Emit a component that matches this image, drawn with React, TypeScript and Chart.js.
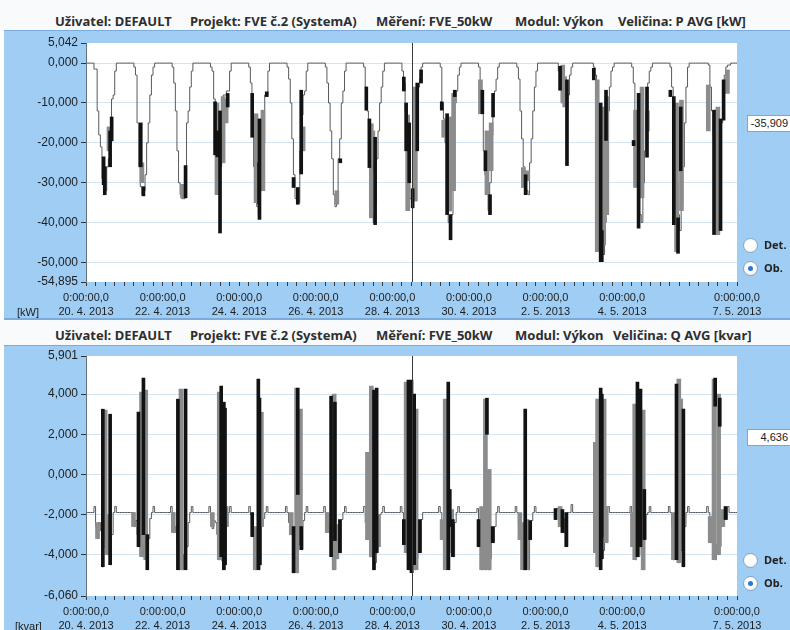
import React, { useEffect, useRef } from 'react';
import { Chart, registerables } from 'chart.js';

Chart.register(...registerables);

// ---------- DATA ----------
// x axis: days since 20. 4. 2013 0:00
const xTickDays = [0, 2, 4, 6, 8, 10, 12, 14, 17];
const xTickDates = ['20. 4. 2013', '22. 4. 2013', '24. 4. 2013', '26. 4. 2013', '28. 4. 2013', '30. 4. 2013', '2. 5. 2013', '4. 5. 2013', '7. 5. 2013'];
const xTickTime = '0:00:00,0';
const cursorDay = 8.5;

// P AVG [kW] – hourly outline, hours 5..19 of each day (night = 0)
const pNight = 0;
const pDaytime = [
  [-1.5, -1.5, -12, -18, -21, -29, -33, -32, -26, -24, -20, -9, -8, -2, 0],
  [0, -1, -3, -15, -26, -31, -33, -32, -28, -20, -15, -8, -3, -1, 0],
  [0, -1, -5, -12, -22, -30, -33, -34, -34, -30, -15, -12, -6, -2, 0],
  [0, -1, -2, -9, -16, -22, -28, -26, -20, -8, -8, -7, -7, -2, 0],
  [0, -1, -5, -14, -26, -33, -36, -38, -32, -28, -20, -8, -8, -2, 0],
  [0, -1, -4, -10, -19, -28, -34, -35, -35, -22, -13, -8, -7, -2, 0],
  [0, -1, -5, -10, -17, -24, -33, -36, -35, -24, -19, -10, -7, -2, 0],
  [0, -1, -6, -12, -22, -32, -38, -40, -35, -24, -17, -10, -6, -2, 0],
  [0, -2, -5, -12, -22, -30, -34, -36, -30, -20, -12, -6, -4, -1, 0],
  [0, -1, -10, -14, -20, -30, -40, -42, -38, -28, -10, -7, -3, -1, 0],
  [0, -1, -5, -12, -22, -28, -33, -37, -30, -18, -8, -7, -4, -1, 0],
  [0, -1, -4, -12, -19, -26, -29, -32, -33, -25, -19, -12, -6, -2, 0],
  [0, 0, 0, -2, -5, -8, -6, -9, -12, -8, -3, -1, 0, 0, 0],
  [0, -1, -3, -8, -20, -34, -44, -48, -40, -25, -12, -6, -2, -1, 0],
  [0, -1, -5, -14, -28, -32, -38, -40, -30, -22, -12, -5, -2, -1, 0],
  [0, -1, -6, -15, -22, -30, -38, -42, -35, -26, -15, -6, -1, 0, 0],
  [0, -0.5, -6, -12, -18, -30, -40, -38, -25, -15, -8, -3, -1, -0.5, -0.5],
];
// P fluctuation ranges [day, min, max]
const pBarsBlack = [
  [0.46, -30.5, -23.5], [0.49, -33, -26], [0.63, -26, -17], [0.67, -19.5, -13.5],
  [1.43, -26, -15], [1.5, -33.3, -31],
  [2.6, -33.8, -25.7],
  [3.37, -23, -9.7], [3.43, -23.5, -17], [3.5, -42.6, -12], [3.7, -11, -7.6],
  [4.34, -18.6, -7.6], [4.52, -35.4, -25], [4.53, -39.2, -14], [4.72, -8.4, -7.2],
  [5.42, -31.2, -28.7], [5.53, -35.4, -31.2], [5.62, -27.8, -6.8],
  [6.64, -25, -24],
  [7.32, -11.8, -6], [7.4, -26.2, -14], [7.55, -40.5, -18.6],
  [8.3, -7, -3.5], [8.36, -22, -10], [8.44, -30, -15], [8.53, -36.3, -31.5], [8.65, -22, -5], [8.75, -5, -1.7],
  [9.29, -11.8, -9.7], [9.43, -38, -12.7], [9.52, -44.3, -38], [9.63, -8.4, -6.8],
  [10.35, -12.7, -6.8], [10.43, -27, -22], [10.55, -38, -33], [10.63, -13.5, -7.6],
  [11.48, -33, -28],
  [12.38, -6.8, -0.8], [12.56, -25.7, -4.2],
  [13.26, -4.2, -1.3], [13.44, -49.8, -10], [13.47, -49.8, -42], [13.58, -19.4, -6.8],
  [14.3, -20.7, -19.4], [14.43, -41.4, -7.6], [14.65, -23.6, -6],
  [15.26, -8.4, -6.8], [15.35, -40.5, -8.4], [15.46, -47.7, -38.8], [15.53, -27, -11],
  [16.4, -43, -11.8], [16.57, -42, -14], [16.65, -14.3, -4.2],
];
const pBarsGray = [
  [0.6, -22, -16], [1.46, -30, -25], [2.52, -33.8, -30.4],
  [3.42, -33, -10], [3.58, -25, -8.4], [3.66, -15, -9],
  [4.44, -35, -12.7], [4.62, -32, -11.8],
  [5.67, -22, -16],
  [6.55, -35.4, -32],
  [7.45, -38.8, -15.2], [7.49, -27, -17],
  [8.4, -37, -13], [8.6, -34.6, -6],
  [9.34, -18.6, -14.3], [9.5, -37.1, -13.5], [9.6, -32, -7.6],
  [10.3, -12.7, -4.2], [10.47, -33, -17], [10.58, -27, -15],
  [11.42, -31.2, -26.2], [11.53, -29.5, -27],
  [12.45, -10, -0.5], [12.5, -11, -3.4],
  [13.35, -47.3, -4.2], [13.52, -45.6, -11], [13.6, -38, -8.4],
  [14.35, -31.2, -11.8], [14.52, -33.8, -6], [14.66, -17, -12],
  [15.42, -47.3, -10], [15.55, -37, -9.3],
  [16.25, -17, -5.5], [16.5, -43, -11], [16.75, -7.6, -1.7],
];
const pYTicks = [5.042, 0, -10, -20, -30, -40, -50, -54.895];
const pCursorValue = '-35,909';

// Q AVG [kvar] – hourly outline, hours 5..19 (night = -1.9)
const qNight = -1.9;
const qDaytime = [
  [-1.6, -2.6, -3.2, -2.4, -2.8, -4.6, -3.6, -3.3, -4.0, -3.8, -4.5, -3.0, -1.9, -1.6, -1.9],
  [-1.9, -2.6, -2.3, -3.0, -3.6, -4.0, -4.1, -3.5, -4.25, -4.75, -3.2, -2.2, -1.9, -1.6, -1.9],
  [-1.6, -1.9, -2.9, -2.6, -3.5, -4.75, -4.2, -4.75, -4.0, -4.75, -3.6, -2.4, -1.9, -1.6, -1.9],
  [-1.6, -2.2, -2.7, -2.3, -2.4, -3.0, -4.25, -4.1, -4.3, -4.75, -4.5, -2.6, -1.9, -1.6, -1.9],
  [-1.9, -1.6, -2.0, -3.1, -2.8, -4.75, -4.0, -4.75, -4.5, -2.6, -2.2, -1.9, -1.6, -1.9, -1.9],
  [-1.6, -1.9, -2.4, -3.0, -2.6, -4.9, -4.2, -4.9, -3.5, -3.2, -3.75, -2.3, -1.9, -1.6, -1.9],
  [-1.6, -1.9, -2.8, -2.5, -3.2, -4.1, -4.75, -3.3, -4.2, -3.4, -3.9, -2.25, -1.9, -1.6, -1.9],
  [-1.9, -1.6, -2.4, -3.25, -3.0, -4.1, -4.1, -4.75, -4.4, -3.9, -3.6, -2.0, -1.9, -1.6, -1.9],
  [-1.6, -1.9, -3.5, -3.9, -3.6, -4.75, -4.4, -4.9, -4.5, -4.75, -4.2, -3.0, -3.9, -2.25, -1.9],
  [-1.6, -1.9, -3.25, -2.6, -4.75, -4.2, -4.75, -2.6, -3.9, -4.1, -2.4, -1.9, -1.6, -1.9, -1.9],
  [-1.7, -3.6, -2.5, -4.75, -3.5, -4.75, -4.0, -4.75, -4.2, -3.0, -3.4, -2.6, -1.9, -1.6, -1.9],
  [-1.6, -1.9, -2.4, -3.25, -3.8, -4.75, -4.75, -4.5, -4.75, -3.25, -2.3, -1.9, -1.6, -1.9, -1.9],
  [-1.9, -2.25, -1.7, -1.9, -2.6, -2.0, -2.9, -2.2, -3.6, -1.9, -1.9, -1.5, -1.9, -1.9, -1.9],
  [-1.9, -1.9, -3.9, -4.6, -4.2, -4.75, -4.2, -3.8, -3.1, -3.4, -1.6, -1.9, -1.9, -1.9, -1.9],
  [-1.6, -3.6, -2.5, -4.25, -4.1, -4.1, -3.6, -4.0, -4.75, -3.25, -2.0, -1.9, -1.6, -1.9, -1.9],
  [-1.6, -1.9, -2.6, -4.25, -3.4, -4.25, -4.4, -3.25, -3.8, -4.6, -2.6, -1.9, -1.6, -1.9, -1.9],
  [-1.6, -1.9, -3.4, -2.1, -3.0, -4.25, -3.5, -4.0, -3.6, -2.6, -2.4, -1.75, -2.25, -1.6, -1.9],
];
const qBarsBlack = [
  [0.44, -4.6, 3.25], [0.63, -4.5, 3.0],
  [1.37, -3.6, 3.1], [1.5, -3.0, 4.8], [1.6, -4.75, -3.0],
  [2.4, -4.75, 3.75], [2.6, -4.75, 4.25],
  [3.53, -4.1, 4.4], [3.6, -4.75, 3.6], [3.63, -4.5, 3.3],
  [4.34, -3.1, -1.9], [4.5, -4.75, 4.75], [4.53, -4.5, 3.8],
  [5.42, -4.9, -2.6], [5.53, -1.0, 4.3], [5.62, -3.75, -2.6],
  [6.4, -4.1, 3.9], [6.5, -3.3, 3.6], [6.63, -3.9, -2.25],
  [7.52, -4.75, 4.2], [7.59, -3.9, 4.3],
  [8.3, -3.5, -2.25], [8.42, -4.75, 4.7], [8.5, -4.9, 4.7], [8.57, -4.5, 4.0], [8.72, -3.9, -2.25],
  [9.46, -4.75, 4.6], [9.5, -2.6, -0.75], [9.58, -4.1, -2.25],
  [10.25, -3.6, -2.25], [10.47, 2.0, 3.8], [10.62, -3.4, -2.6],
  [11.47, -4.75, 3.25], [11.6, -3.25, -2.3],
  [12.26, -2.25, -1.7], [12.44, -2.9, -1.75], [12.54, -3.6, -1.9],
  [13.44, -4.75, 4.3], [13.47, -4.2, 4.0],
  [14.4, -4.1, 4.6], [14.48, -3.6, 4.25], [14.58, -3.25, -0.75],
  [15.42, -4.25, 4.5], [15.6, -4.6, 3.25],
  [16.43, 3.4, 4.8], [16.55, 2.4, 3.8], [16.7, -2.25, -1.6],
];
const qBarsGray = [
  [0.3, -3.2, -2.4], [0.5, -3.3, 3.2], [0.55, -4.0, -2.0],
  [1.24, -2.6, -1.9], [1.45, -4.1, 4.1], [1.56, -4.25, 4.2],
  [2.28, -2.9, -1.9], [2.48, -4.75, 4.25],
  [3.3, -2.6, -1.9], [3.48, -4.25, 4.1], [3.66, -2.6, -1.6],
  [4.42, -4.75, -2.6], [4.58, -2.6, 3.1],
  [5.36, -3.0, -1.9], [5.5, -4.9, 4.3], [5.6, -3.2, 3.25],
  [6.3, -2.9, -1.9], [6.48, -4.75, 4.0], [6.55, -4.2, -2.5],
  [7.35, -3.25, 1.1], [7.45, -4.1, 4.4], [7.64, -3.6, -2.0],
  [8.36, -3.9, 4.6], [8.62, -4.75, 3.25],
  [9.3, -3.25, -2.25], [9.38, -4.75, 3.75], [9.55, -3.9, -1.75],
  [10.33, -4.75, -1.6], [10.43, -4.75, 3.75], [10.53, -4.75, 0.25],
  [11.33, -3.25, -1.9], [11.4, -4.75, -2.4], [11.52, -4.75, -2.25],
  [12.38, -2.6, -1.6],
  [13.3, -3.9, 1.6], [13.36, -4.6, 3.75], [13.53, -3.1, 3.75], [13.58, -3.4, -1.6],
  [14.27, -3.6, -1.9], [14.33, -4.25, 3.5], [14.55, -4.75, 3.2],
  [15.34, -4.25, -1.9], [15.48, -4.4, 4.75], [15.53, -3.25, 3.75],
  [16.3, -3.4, -2.1], [16.4, -4.25, 4.75], [16.52, -4.0, 4.0], [16.63, -2.6, -1.75],
];
const qYTicks = [5.901, 4, 2, 0, -2, -4, -6.06];
const qCursorValue = '4,636';

// ---------- helpers ----------
const FONT = '"Liberation Sans", Arial, sans-serif';
const TITLE_FONT = '"Noto Sans", "DejaVu Sans", sans-serif';

function buildOutline(daytime: number[][], night: number) {
  const pts: { x: number; y: number }[] = [];
  for (let d = 0; d < daytime.length; d++) {
    for (let h = 0; h < 24; h++) {
      const v = h >= 5 && h <= 19 ? daytime[d][h - 5] : night;
      pts.push({ x: d + h / 24, y: v });
    }
  }
  pts.push({ x: daytime.length, y: night });
  return pts;
}

function toBars(list: number[][]) {
  return list.map(([x, lo, hi]) => ({ x, y: [lo, hi] }));
}

function fmt(v: number) {
  const s = Math.abs(v) < 1e-9 ? '0.000' : v.toFixed(3);
  return s.replace('.', ',');
}

const decoPlugin = {
  id: 'deco',
  beforeDraw(chart: any) {
    const { ctx, chartArea: a } = chart;
    ctx.save();
    ctx.fillStyle = '#ffffff';
    ctx.fillRect(a.left, a.top, a.right - a.left, a.bottom - a.top);
    ctx.restore();
  },
  afterDatasetsDraw(chart: any, _args: any, opts: any) {
    const { ctx, chartArea: a } = chart;
    const x = Math.round(chart.scales.x.getPixelForValue(opts.cursor)) + 0.5;
    ctx.save();
    ctx.strokeStyle = '#3a3a3a';
    ctx.lineWidth = 1;
    ctx.beginPath();
    ctx.moveTo(x, a.top);
    ctx.lineTo(x, a.bottom);
    ctx.stroke();
    ctx.restore();
  },
};

type PanelProps = {
  top: number;
  height: number;
  padTop: number;
  xAxisH: number;
  daytime: number[][];
  night: number;
  barsBlack: number[][];
  barsGray: number[][];
  yTicks: number[];
};

function ChartPanel(p: PanelProps) {
  const ref = useRef<HTMLCanvasElement>(null);
  useEffect(() => {
    const yMax = p.yTicks[0];
    const yMin = p.yTicks[p.yTicks.length - 1];
    const chart = new Chart(ref.current as HTMLCanvasElement, {
      type: 'line',
      data: {
        datasets: [
          {
            type: 'line',
            data: buildOutline(p.daytime, p.night),
            borderColor: '#5a5a5a',
            borderWidth: 1,
            pointRadius: 0,
            stepped: true,
            fill: false,
            order: 3,
          } as any,
          {
            type: 'bar',
            data: toBars(p.barsGray),
            backgroundColor: '#8c8c8c',
            barThickness: 4,
            grouped: false,
            borderWidth: 0,
            order: 2,
          } as any,
          {
            type: 'bar',
            data: toBars(p.barsBlack),
            backgroundColor: '#121212',
            barThickness: 3,
            grouped: false,
            borderWidth: 0,
            order: 1,
          } as any,
        ],
      },
      options: {
        responsive: false,
        animation: false,
        events: [],
        layout: { padding: { left: 0, right: 53, top: p.padTop, bottom: 0 } },
        plugins: {
          legend: { display: false },
          tooltip: { enabled: false },
          deco: { cursor: cursorDay },
        } as any,
        scales: {
          x: {
            type: 'linear',
            min: 0,
            max: 17,
            offset: false,
            grid: {
              display: true,
              drawOnChartArea: false,
              drawTicks: true,
              tickLength: 4,
              tickColor: '#3a3a3a',
              offset: false,
            },
            border: { display: false },
            ticks: {
              autoSkip: false,
              maxRotation: 0,
              minRotation: 0,
              padding: 5,
              color: '#1e1e1e',
              font: { family: FONT, size: 11, lineHeight: 1.25 },
              callback: (v: any) => {
                const i = xTickDays.findIndex((d) => Math.abs(d - Number(v)) < 1e-6);
                return i >= 0 ? [xTickTime, xTickDates[i]] : '';
              },
            },
            afterBuildTicks: (s: any) => {
              const t = [];
              for (let i = 0; i <= 68; i++) t.push({ value: i * 0.25 });
              s.ticks = t;
            },
            afterFit: (s: any) => {
              s.height = p.xAxisH;
            },
          },
          y: {
            type: 'linear',
            min: yMin,
            max: yMax,
            grid: {
              color: (c: any) => {
                const v = c.tick ? c.tick.value : 0;
                return v === yMin || v === yMax ? 'rgba(0,0,0,0)' : '#d3e5f4';
              },
              tickColor: '#333333',
              tickLength: 5,
              drawTicks: true,
            },
            border: { display: true, color: '#5f7184' },
            ticks: {
              padding: 3,
              color: '#1e1e1e',
              font: { family: FONT, size: 12 },
              callback: (v: any) => fmt(Number(v)),
            },
            afterBuildTicks: (s: any) => {
              s.ticks = p.yTicks.map((v) => ({ value: v }));
            },
            afterFit: (s: any) => {
              s.width = 86;
            },
          },
        } as any,
      },
      plugins: [decoPlugin as any],
    });
    return () => chart.destroy();
  }, []);
  return (
    <canvas
      ref={ref}
      width={790}
      height={p.height}
      style={{ position: 'absolute', left: 0, top: p.top, width: 790, height: p.height }}
    />
  );
}

function Radio({ cy, label, checked }: { cy: number; label: string; checked: boolean }) {
  return (
    <>
      <div
        style={{
          position: 'absolute',
          left: 743,
          top: cy - 7.5,
          width: 15,
          height: 15,
          borderRadius: '50%',
          boxSizing: 'border-box',
          border: '1px solid #8ea3b6',
          background: 'radial-gradient(circle at 45% 40%, #ffffff 40%, #e3eaf1)',
        }}
      >
        {checked && (
          <div
            style={{
              position: 'absolute',
              left: 4,
              top: 4,
              width: 5,
              height: 5,
              borderRadius: '50%',
              background: '#2a78d2',
            }}
          />
        )}
      </div>
      <span
        style={{
          position: 'absolute',
          left: 764,
          top: cy - 8,
          lineHeight: '16px',
          fontSize: 11,
          fontWeight: 700,
          color: '#222',
          fontFamily: TITLE_FONT,
          whiteSpace: 'nowrap',
        }}
      >
        {label}
      </span>
    </>
  );
}

function TitleRow({ cy, segs }: { cy: number; segs: [string, number][] }) {
  return (
    <>
      {segs.map(([t, x], i) => (
        <span
          key={i}
          style={{
            position: 'absolute',
            left: x,
            top: cy - 9,
            lineHeight: '18px',
            fontSize: 13,
            fontWeight: 700,
            color: '#2e2e2e',
            fontFamily: TITLE_FONT,
            whiteSpace: 'pre',
          }}
        >
          {t}
        </span>
      ))}
    </>
  );
}

function ValueBox({ top, text }: { top: number; text: string }) {
  return (
    <div
      style={{
        position: 'absolute',
        left: 747,
        top,
        width: 48,
        height: 17,
        boxSizing: 'border-box',
        background: '#ffffff',
        border: '1px solid #8da2b5',
        fontFamily: FONT,
        fontSize: 11,
        lineHeight: '15px',
        textAlign: 'right',
        paddingRight: 6,
        color: '#222',
        whiteSpace: 'nowrap',
        overflow: 'hidden',
      }}
    >
      {text}
    </div>
  );
}

export default function App() {
  const blue = '#9fcdf4';
  return (
    <div
      style={{
        position: 'fixed',
        left: 0,
        top: 0,
        width: 790,
        height: 630,
        overflow: 'hidden',
        background: '#ffffff',
        fontFamily: FONT,
      }}
    >
      {/* title bar 1 */}
      <div style={{ position: 'absolute', left: 0, top: 0, width: 790, height: 30, background: '#f8fafc' }} />
      <TitleRow
        cy={21}
        segs={[
          ['Uživatel: DEFAULT', 55],
          ['Projekt: FVE č.2 (SystemA)', 190],
          ['Měření: FVE_50kW', 376],
          ['Modul: Výkon', 515],
          ['Veličina: P AVG [kW]', 618],
        ]}
      />
      {/* panel 1 */}
      <div
        style={{
          position: 'absolute',
          left: 4,
          top: 30,
          width: 786,
          height: 290,
          boxSizing: 'border-box',
          background: blue,
          borderTop: '1px solid #79acdb',
          borderBottom: '2px solid #79acdb',
        }}
      />
      <ChartPanel
        top={31}
        height={287}
        padTop={12}
        xAxisH={36}
        daytime={pDaytime}
        night={pNight}
        barsBlack={pBarsBlack}
        barsGray={pBarsGray}
        yTicks={pYTicks}
      />
      <span style={{ position: 'absolute', left: 17, top: 304, lineHeight: '16px', fontSize: 11, color: '#1e1e1e' }}>[kW]</span>
      <ValueBox top={115} text={pCursorValue} />
      <Radio cy={245} label="Det." checked={false} />
      <Radio cy={268} label="Ob." checked={true} />

      {/* title bar 2 */}
      <div style={{ position: 'absolute', left: 0, top: 320, width: 790, height: 25, background: '#f8fafc' }} />
      <TitleRow
        cy={335}
        segs={[
          ['Uživatel: DEFAULT', 55],
          ['Projekt: FVE č.2 (SystemA)', 190],
          ['Měření: FVE_50kW', 376],
          ['Modul: Výkon', 515],
          ['Veličina: Q AVG [kvar]', 613],
        ]}
      />
      {/* panel 2 */}
      <div
        style={{
          position: 'absolute',
          left: 4,
          top: 345,
          width: 786,
          height: 285,
          boxSizing: 'border-box',
          background: blue,
          borderTop: '1px solid #79acdb',
        }}
      />
      <ChartPanel
        top={345}
        height={285}
        padTop={11}
        xAxisH={34}
        daytime={qDaytime}
        night={qNight}
        barsBlack={qBarsBlack}
        barsGray={qBarsGray}
        yTicks={qYTicks}
      />
      <span style={{ position: 'absolute', left: 15, top: 618, lineHeight: '16px', fontSize: 11, color: '#1e1e1e' }}>[kvar]</span>
      <ValueBox top={429} text={qCursorValue} />
      <Radio cy={560} label="Det." checked={false} />
      <Radio cy={583} label="Ob." checked={true} />
    </div>
  );
}
